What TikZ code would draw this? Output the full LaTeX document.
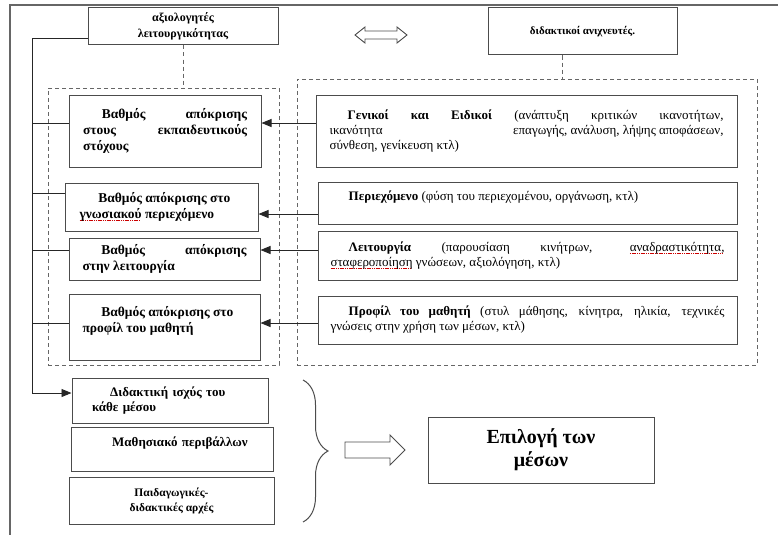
\documentclass[tikz,border=0pt]{standalone}
\usepackage{fontspec}
\setmainfont{Liberation Serif}
\newcommand\redul[1]{\setbox0\hbox{#1}\rlap{\textcolor{red!80!black}{\leaders\hbox{\rule[-2.5pt]{1.2pt}{0.6pt}\kern0.6pt}\hskip\wd0}}\box0\relax}
\usetikzlibrary{arrows.meta,decorations.pathreplacing}
\begin{document}
\begin{tikzpicture}[x=1pt,y=-1pt,>={Triangle[length=10pt,width=8pt]},
	font=\fontsize{13}{15}\selectfont,
	box/.style={draw=black!70,line width=1pt,rectangle,inner sep=0pt},
	lbox/.style={box,text width=164pt,align=justify,font=\fontsize{13.5}{16}\selectfont\bfseries},
	rbox/.style={box,text width=394pt,align=justify},
	dbox/.style={box,text width=156pt,align=left,font=\fontsize{13}{15}\selectfont\bfseries},
	grp/.style={draw=black!60,line width=0.8pt,dash pattern=on 4pt off 3pt},
	conn/.style={draw=black!85,line width=0.9pt},
	hollow/.style={draw=black!70,line width=0.9pt,line join=miter}]
	\useasboundingbox (0,0) rectangle (778,535);
	\draw[black!60,line width=1.2pt] (778,5) -- (10,5) -- (10,535);
	\node[grp,minimum width=231,minimum height=277] (lf) at (163.5,226.5) {};
	\node[grp,minimum width=460,minimum height=286] (rf) at (527,222) {};
	\node[box,minimum width=190,minimum height=37,align=center,font=\fontsize{12}{16}\selectfont\bfseries] (axio) at (183,26.5) {αξιολογητές\\λειτουργικότητας};
	\node[box,minimum width=189,minimum height=47,font=\fontsize{11}{14}\selectfont\bfseries] (dida) at (582.5,31.5) {διδακτικοί ανιχνευτές.};
	\coordinate (dbl) at (381,35);
	\draw[hollow] (dbl) ++(-26,0) -- ++(10,-8) -- ++(0,4) -- ++(32,0) -- ++(0,-4) -- ++(10,8) -- ++(-10,8) -- ++(0,-4) -- ++(-32,0) -- ++(0,4) -- cycle;
	\draw[grp] (axio.south) -- (axio.south|-lf.north);
	\draw[grp] ([xshift=-20pt]dida.south) coordinate (ds) -- (ds|-rf.north);
	\node[lbox,minimum width=192,minimum height=72] (b1) at (165,131) {\hspace*{1.4em}Βαθμός απόκρισης\linebreak στους εκπαιδευτικούς\linebreak στόχους};
	\node[lbox,minimum width=193,minimum height=48] (b2) at (161.5,207) {\hspace*{1.4em}Βαθμός απόκρισης στο\\ \redul{γνωσιακού} περιεχόμενο};
	\node[lbox,minimum width=191,minimum height=42] (b3) at (164.5,259) {\hspace*{1.4em}Βαθμός απόκρισης\linebreak στην λειτουργία};
	\node[lbox,minimum width=191,minimum height=66] (b4) at (164.5,327) {\hspace*{1.4em}Βαθμός απόκρισης στο\\ προφίλ του μαθητή\\ \mbox{}};
	\node[rbox,minimum width=421,minimum height=72] (r1) at (526.5,131) {\hspace*{1.4em}\textbf{Γενικοί και Ειδικοί} (ανάπτυξη κριτικών ικανοτήτων,\linebreak ικανότητα\hfill επαγωγής, ανάλυση, λήψης αποφάσεων,\linebreak σύνθεση, γενίκευση κτλ)};
	\node[rbox,minimum width=419,minimum height=42] (r2) at (527.5,203) {\hspace*{1.4em}\textbf{Περιεχόμενο} (φύση του περιεχομένου, οργάνωση, κτλ)\\ \mbox{}};
	\node[rbox,minimum width=419,minimum height=49] (r3) at (527.5,255.5) {\hspace*{1.4em}\textbf{Λειτουργία} (παρουσίαση κινήτρων, \redul{αναδραστικότητα,}\linebreak \redul{σταφεροποίηση} γνώσεων, αξιολόγηση, κτλ)};
	\node[rbox,minimum width=419,minimum height=48] (r4) at (527.5,320) {\hspace*{1.4em}\textbf{Προφίλ του μαθητή} (στυλ μάθησης, κίνητρα, ηλικία, τεχνικές\linebreak γνώσεις στην χρήση των μέσων, κτλ)};
	\node[dbox,minimum width=196,minimum height=45] (d1) at (170,400.5) {\hspace*{1.4em}Διδακτική ισχύς του\\ κάθε μέσου};
	\node[dbox,minimum width=202,minimum height=44] (d2) at (172,449) {\hspace*{1.4em}Μαθησιακό περιβάλλων\\ \mbox{}};
	\node[box,minimum width=205,minimum height=47,align=center,font=\fontsize{11.5}{15}\selectfont\bfseries] (d3) at (171.5,500.5) {Παιδαγωγικές-\\διδακτικές αρχές};
	\node[box,minimum width=226,minimum height=66,align=center,font=\fontsize{20}{23}\selectfont\bfseries] (epi) at (541,450) {Επιλογή των\\μέσων};
	\coordinate (sp) at (32,38);
	\draw[conn,->] (axio.west|-sp) -- (sp) -- (sp|-0,393) -- (d1.west|-0,393);
	\foreach \b/\r/\u/\v in {b1/r1/123/123,b2/r2/193/214,b3/r3/250/250,b4/r4/323/323}{
		\draw[conn] (sp|-0,\u) -- (\b.west|-0,\u);
		\draw[conn,->] (\r.west|-0,\v) -- (\b.east|-0,\v);
	}
	\coordinate (bt) at (303,380);
	\coordinate (bb) at (303,522);
	\draw[black!70,line width=1pt,decorate,decoration={brace,amplitude=25pt}] (bt) -- (bb);
	\coordinate (sa) at (375,450);
	\draw[hollow] (sa) ++(-30,-8) -- ++(45,0) -- ++(0,-7) -- ++(15,15) -- ++(-15,15) -- ++(0,-7) -- ++(-45,0) -- cycle;
\end{tikzpicture}
\end{document}
